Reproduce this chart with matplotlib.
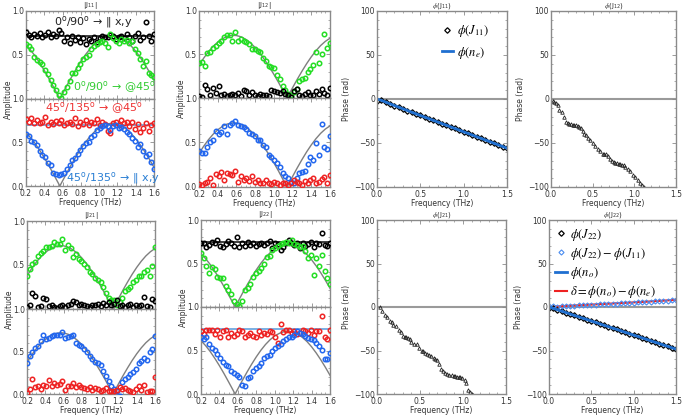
# Jones-matrix amplitudes and phases for the 0/90 and 45/135 rotations.
import numpy as np
import matplotlib
matplotlib.use("Agg")
import matplotlib.pyplot as plt
from matplotlib.ticker import MultipleLocator

plt.rcParams['font.family'] = ['DejaVu Sans']
plt.rcParams['mathtext.fontset'] = 'stix'

# Measured amplitude points, 48 frequencies from 0.2 to 1.6 THz.
freq = np.linspace(0.2, 1.6, 48)

j11_up_black = [0.76, 0.73, 0.70, 0.74, 0.72, 0.75, 0.71, 0.73, 0.76, 0.70, 0.74, 0.72, 0.78, 0.75, 0.66, 0.70,
                0.64, 0.72, 0.67, 0.70, 0.65, 0.69, 0.63, 0.68, 0.66, 0.71, 0.65, 0.69, 0.72, 0.70, 0.71, 0.73,
                0.72, 0.68, 0.70, 0.72, 0.69, 0.74, 0.70, 0.66, 0.72, 0.75, 0.67, 0.70, 0.88, 0.72, 0.66, 0.74]
j11_up_green = [0.63, 0.60, 0.57, 0.48, 0.44, 0.42, 0.40, 0.33, 0.28, 0.22, 0.16, 0.10, 0.05, 0.01, 0.08, 0.14,
                0.20, 0.29, 0.30, 0.35, 0.40, 0.45, 0.48, 0.50, 0.57, 0.60, 0.63, 0.65, 0.66, 0.64, 0.59, 0.74,
                0.69, 0.66, 0.64, 0.68, 0.66, 0.67, 0.64, 0.66, 0.57, 0.52, 0.46, 0.37, 0.43, 0.30, 0.27, 0.25]
j11_lo_red = [0.77, 0.73, 0.78, 0.72, 0.76, 0.72, 0.74, 0.79, 0.70, 0.73, 0.71, 0.75, 0.72, 0.76, 0.70, 0.72,
              0.74, 0.71, 0.78, 0.69, 0.73, 0.71, 0.76, 0.70, 0.74, 0.72, 0.77, 0.70, 0.73, 0.71, 0.63, 0.61,
              0.72, 0.74, 0.70, 0.76, 0.72, 0.74, 0.69, 0.73, 0.66, 0.71, 0.62, 0.67, 0.72, 0.63, 0.70, 0.72]
j11_lo_blue = [0.60, 0.57, 0.52, 0.50, 0.47, 0.40, 0.36, 0.33, 0.26, 0.24, 0.15, 0.14, 0.13, 0.14, 0.15, 0.20,
               0.24, 0.30, 0.32, 0.37, 0.41, 0.46, 0.49, 0.51, 0.56, 0.59, 0.64, 0.67, 0.69, 0.70, 0.69, 0.64,
               0.69, 0.70, 0.67, 0.68, 0.66, 0.62, 0.60, 0.55, 0.52, 0.45, 0.48, 0.40, 0.34, 0.37, 0.28, 0.20]

j12_up_black = [0.02, 0.01, 0.15, 0.10, 0.04, 0.12, 0.06, 0.14, 0.03, 0.05, 0.02, 0.04, 0.05, 0.03, 0.06, 0.02,
                0.09, 0.08, 0.03, 0.07, 0.03, 0.02, 0.05, 0.03, 0.04, 0.02, 0.09, 0.08, 0.07, 0.06, 0.08, 0.05,
                0.04, 0.01, 0.08, 0.10, 0.03, 0.02, 0.05, 0.07, 0.04, 0.03, 0.08, 0.05, 0.10, 0.06, 0.04, 0.11]
j12_up_green = [0.40, 0.41, 0.37, 0.52, 0.53, 0.58, 0.60, 0.63, 0.66, 0.70, 0.72, 0.72, 0.66, 0.76, 0.65, 0.68,
                0.66, 0.64, 0.62, 0.56, 0.56, 0.54, 0.53, 0.46, 0.43, 0.37, 0.36, 0.35, 0.27, 0.22, 0.14, 0.09,
                0.05, 0.04, 0.07, 0.10, 0.20, 0.22, 0.23, 0.30, 0.33, 0.38, 0.53, 0.40, 0.50, 0.74, 0.57, 0.63]
j12_lo_red = [0.03, 0.02, 0.04, 0.06, 0.10, 0.02, 0.15, 0.12, 0.17, 0.08, 0.16, 0.15, 0.13, 0.18, 0.06, 0.12,
              0.08, 0.10, 0.07, 0.12, 0.06, 0.08, 0.05, 0.04, 0.08, 0.05, 0.03, 0.06, 0.04, 0.02, 0.05, 0.04,
              0.02, 0.05, 0.08, 0.06, 0.04, 0.02, 0.07, 0.05, 0.08, 0.10, 0.04, 0.06, 0.09, 0.11, 0.05, 0.14]
j12_lo_blue = [0.40, 0.38, 0.38, 0.45, 0.50, 0.53, 0.63, 0.60, 0.62, 0.69, 0.59, 0.70, 0.72, 0.74, 0.70, 0.69,
               0.67, 0.65, 0.61, 0.59, 0.57, 0.53, 0.53, 0.47, 0.45, 0.36, 0.34, 0.30, 0.27, 0.22, 0.16, 0.12,
               0.10, 0.06, 0.05, 0.10, 0.16, 0.17, 0.18, 0.26, 0.34, 0.30, 0.49, 0.36, 0.71, 0.45, 0.43, 0.57]

j21_up_black = [0.02, 0.04, 0.18, 0.15, 0.02, 0.03, 0.13, 0.11, 0.03, 0.05, 0.02, 0.01, 0.03, 0.04, 0.02, 0.05,
                0.06, 0.09, 0.08, 0.04, 0.06, 0.05, 0.03, 0.02, 0.04, 0.05, 0.06, 0.03, 0.07, 0.05, 0.08, 0.04,
                0.06, 0.10, 0.03, 0.05, 0.02, 0.04, 0.06, 0.02, 0.05, 0.03, 0.04, 0.14, 0.03, 0.02, 0.11, 0.09]
j21_up_green = [0.38, 0.46, 0.51, 0.53, 0.60, 0.64, 0.66, 0.71, 0.70, 0.72, 0.76, 0.74, 0.74, 0.80, 0.67, 0.73,
                0.69, 0.59, 0.62, 0.57, 0.55, 0.51, 0.48, 0.42, 0.40, 0.35, 0.33, 0.31, 0.25, 0.18, 0.13, 0.10,
                0.10, 0.05, 0.08, 0.12, 0.20, 0.23, 0.25, 0.31, 0.33, 0.37, 0.37, 0.42, 0.44, 0.38, 0.49, 0.71]
j21_lo_red = [0.01, 0.06, 0.18, 0.08, 0.10, 0.06, 0.11, 0.09, 0.16, 0.10, 0.13, 0.11, 0.12, 0.15, 0.05, 0.09,
              0.10, 0.13, 0.08, 0.11, 0.08, 0.07, 0.06, 0.08, 0.05, 0.07, 0.06, 0.04, 0.05, 0.07, 0.03, 0.04,
              0.03, 0.05, 0.08, 0.06, 0.07, 0.05, 0.04, 0.02, 0.06, 0.09, 0.05, 0.11, 0.02, 0.04, 0.03, 0.20]
j21_lo_blue = [0.37, 0.45, 0.50, 0.54, 0.57, 0.62, 0.70, 0.65, 0.66, 0.68, 0.69, 0.70, 0.70, 0.73, 0.66, 0.67,
               0.68, 0.70, 0.60, 0.58, 0.57, 0.53, 0.49, 0.45, 0.41, 0.38, 0.36, 0.34, 0.27, 0.21, 0.15, 0.10,
               0.06, 0.03, -0.02, 0.14, 0.18, 0.20, 0.23, 0.26, 0.30, 0.37, 0.39, 0.42, 0.40, 0.50, 0.53, 0.68]

j22_up_black = [0.73, 0.74, 0.69, 0.71, 0.75, 0.73, 0.77, 0.70, 0.69, 0.72, 0.76, 0.73, 0.70, 0.80, 0.69, 0.73,
                0.70, 0.75, 0.71, 0.73, 0.70, 0.72, 0.74, 0.71, 0.73, 0.76, 0.68, 0.74, 0.72, 0.66, 0.69, 0.73,
                0.77, 0.74, 0.71, 0.73, 0.68, 0.74, 0.70, 0.72, 0.75, 0.69, 0.73, 0.72, 0.85, 0.71, 0.70, 0.74]
j22_up_green = [0.62, 0.56, 0.47, 0.39, 0.46, 0.44, 0.35, 0.33, 0.33, 0.24, 0.20, 0.15, 0.07, 0.04, 0.01, 0.07,
                0.20, 0.22, 0.26, 0.35, 0.39, 0.41, 0.45, 0.50, 0.58, 0.59, 0.66, 0.68, 0.70, 0.72, 0.73, 0.75,
                0.73, 0.77, 0.72, 0.71, 0.69, 0.70, 0.64, 0.56, 0.60, 0.37, 0.56, 0.47, 0.60, 0.41, 0.33, 0.26]
j22_lo_red = [0.72, 0.69, 0.74, 0.73, 0.74, 0.69, 0.73, 0.66, 0.72, 0.74, 0.66, 0.70, 0.67, 0.69, 0.73, 0.72,
              0.66, 0.68, 0.70, 0.67, 0.66, 0.72, 0.68, 0.70, 0.69, 0.72, 0.71, 0.66, 0.59, 0.80, 0.71, 0.73,
              0.74, 0.70, 0.72, 0.69, 0.70, 0.74, 0.72, 0.70, 0.74, 0.68, 0.72, 0.72, 0.90, 0.66, 0.63, 0.74]
j22_lo_blue = [0.65, 0.63, 0.65, 0.57, 0.53, 0.51, 0.46, 0.41, 0.37, 0.33, 0.32, 0.26, 0.24, 0.22, 0.20, 0.10,
               0.09, 0.18, 0.20, 0.26, 0.30, 0.32, 0.36, 0.41, 0.44, 0.45, 0.50, 0.53, 0.55, 0.58, 0.61, 0.63,
               0.65, 0.65, 0.68, 0.72, 0.70, 0.69, 0.67, 0.64, 0.63, 0.62, 0.59, 0.55, 0.51, 0.40, 0.40, 0.47]

# Model curves (grey).
model_f = [0.20, 0.25, 0.30, 0.35, 0.40, 0.45, 0.50, 0.55, 0.57, 0.60, 0.65, 0.70, 0.75, 0.80, 0.85, 0.90,
           0.95, 1.00, 1.05, 1.10, 1.14, 1.15, 1.20, 1.25, 1.30, 1.35, 1.40, 1.45, 1.50, 1.55, 1.60]
model_cos = [0.613, 0.556, 0.488, 0.410, 0.325, 0.234, 0.138, 0.040, 0.000, 0.059, 0.158, 0.253, 0.343, 0.427,
             0.503, 0.569, 0.624, 0.667, 0.697, 0.716, 0.720, 0.720, 0.710, 0.687, 0.651, 0.603, 0.543, 0.472,
             0.393, 0.307, 0.215]
model_sin = [0.377, 0.458, 0.530, 0.592, 0.642, 0.681, 0.707, 0.719, 0.720, 0.718, 0.703, 0.674, 0.633, 0.580,
             0.516, 0.441, 0.360, 0.272, 0.179, 0.079, 0.000, 0.020, 0.118, 0.215, 0.307, 0.394, 0.473, 0.543,
             0.603, 0.651, 0.687]

# Phases (rad) on a 0.05 THz grid.
phase_f = np.linspace(0, 1.5, 31)
j11_phase = [-2.0, -1.0, -3.5, -5.5, -7.5, -9.5, -11.3, -13.2, -15.0, -16.8, -18.7, -20.5, -22.4, -24.2, -26.1,
             -28.0, -29.8, -31.7, -33.5, -35.4, -37.2, -39.1, -41.0, -42.8, -44.7, -46.5, -48.4, -50.3, -52.1,
             -54.0, -55.8]
ne_phase = [0.0, -1.5, -3.5, -5.5, -7.4, -9.3, -11.2, -13.1, -15.0, -16.8, -18.7, -20.6, -22.4, -24.3, -26.1,
            -28.0, -29.8, -31.7, -33.6, -35.4, -37.3, -39.1, -41.0, -42.9, -44.7, -46.6, -48.4, -50.3, -52.2,
            -54.0, -55.9]
j22_phase = [-1.0, -1.5, -3.2, -4.8, -6.4, -8.0, -9.7, -11.3, -12.9, -14.5, -16.1, -17.7, -19.4, -21.0, -22.6,
             -24.2, -25.8, -27.4, -29.0, -30.7, -32.3, -33.9, -35.5, -37.1, -38.7, -40.4, -42.0, -43.6, -45.2,
             -46.8, -48.4]
no_phase = [0.0, -1.6, -3.2, -4.8, -6.4, -8.1, -9.7, -11.3, -12.9, -14.5, -16.1, -17.7, -19.4, -21.0, -22.6,
            -24.2, -25.8, -27.4, -29.1, -30.7, -32.3, -33.9, -35.5, -37.1, -38.8, -40.4, -42.0, -43.6, -45.2,
            -46.8, -48.4]
j22_minus_j11 = [1.0, 0.8, 0.3, 0.7, 1.1, 1.5, 1.6, 1.9, 2.1, 2.3, 2.6, 2.8, 3.0, 3.2, 3.5, 3.8, 4.0, 4.3, 4.5,
                 4.8, 5.0, 5.3, 5.6, 5.9, 6.2, 6.5, 6.8, 7.1, 7.4, 7.8, 8.1]
delta_phase = [0.0, 0.3, 0.6, 0.9, 1.2, 1.5, 1.8, 2.0, 2.3, 2.5, 2.8, 3.0, 3.3, 3.5, 3.8, 4.0, 4.3, 4.5, 4.8,
               5.0, 5.3, 5.6, 5.8, 6.1, 6.4, 6.7, 7.0, 7.3, 7.6, 7.9, 8.2]

j12_phase_f = [0.02, 0.04, 0.06, 0.08, 0.10, 0.13, 0.16, 0.18, 0.20, 0.22, 0.24, 0.26, 0.28, 0.30, 0.32, 0.34,
               0.36, 0.38, 0.40, 0.42, 0.44, 0.47, 0.50, 0.53, 0.56, 0.59, 0.62, 0.64, 0.66, 0.68, 0.71, 0.73,
               0.75, 0.77, 0.79, 0.81, 0.83, 0.85, 0.87, 0.89, 0.92, 0.95, 0.98, 1.01, 1.04, 1.07, 1.09, 1.11]
j12_phase = [-2, -3, -5, -7, -12, -15, -20, -26, -27, -28, -28, -29, -30, -30, -31, -32, -33, -36, -40, -41,
             -44, -47, -50, -53, -57, -59, -62, -63, -63, -65, -68, -71, -72, -73, -73, -74, -74, -75, -75, -77,
             -79, -82, -86, -89, -92, -96, -98, -100]
j21_phase_f = [0.03, 0.06, 0.09, 0.12, 0.15, 0.17, 0.19, 0.22, 0.25, 0.28, 0.30, 0.32, 0.34, 0.36, 0.38, 0.40,
               0.43, 0.46, 0.49, 0.52, 0.54, 0.56, 0.58, 0.60, 0.63, 0.66, 0.68, 0.70, 0.72, 0.74, 0.77, 0.79,
               0.81, 0.84, 0.87, 0.89, 0.91, 0.93, 0.95, 0.97, 0.99, 1.02, 1.04, 1.06, 1.08, 1.10, 1.12]
j21_phase = [0, -5, -9, -12, -16, -17, -21, -22, -27, -29, -33, -34, -35, -36, -37, -40, -42, -43, -47, -50,
             -51, -53, -54, -55, -56, -59, -60, -61, -66, -71, -73, -76, -77, -78, -78, -79, -79, -80, -80, -81,
             -82, -84, -87, -95, -98, -100, -101]

BLACK, GREEN, RED, BLUE = "#000000", "#22dd22", "#ee2222", "#2266ee"
LINE_BLUE = "#6fa8e0"

fig = plt.figure(figsize=(6.85, 4.15), dpi=100)
W, H = 685, 415


def box(l, t, r, b):
    return [l / W, 1 - b / H, (r - l) / W, (b - t) / H]


def style(ax, xmaj, xmin, ymaj, ymin):
    for s in ax.spines.values():
        s.set_color("#8a8a8a")
        s.set_linewidth(1.0)
    ax.tick_params(which="both", direction="in", top=True, right=True, colors="#8a8a8a",
                   labelcolor="#333333", labelsize=5.5, pad=1.5)
    ax.tick_params(axis="x", pad=2)
    ax.tick_params(which="major", length=3, width=0.6)
    ax.tick_params(which="minor", length=1.5, width=0.5)
    ax.xaxis.set_major_locator(MultipleLocator(xmaj))
    ax.xaxis.set_minor_locator(MultipleLocator(xmin))
    ax.yaxis.set_major_locator(MultipleLocator(ymaj))
    ax.yaxis.set_minor_locator(MultipleLocator(ymin))


def dots(ax, vals, color):
    ax.plot(freq, vals, "o", ms=3.2, mfc="none", mec=color, mew=1.1, zorder=3)


def amp_panel(l, r, t, m, b, title, upper, lower, upper_curve, lower_curve, upper_line, lower_line):
    ax1 = fig.add_axes(box(l, t, r, m))
    ax2 = fig.add_axes(box(l, m, r, b))
    for ax, series, curve in ((ax1, upper, upper_curve), (ax2, lower, lower_curve)):
        ax.plot(model_f, curve, color="#7f7f7f", lw=1.0, zorder=2)
        for vals, c in series:
            dots(ax, vals, c)
        ax.set_xlim(0.2, 1.6)
        ax.set_ylim(0, 1.0)
        style(ax, 0.2, 0.05, 0.5, 0.1)
    if upper_line is not None:
        ax1.axhline(upper_line, color="#333333", lw=1.3, zorder=2.5)
    if lower_line is not None:
        ax2.axhline(lower_line, color=LINE_BLUE, lw=1.3, zorder=2.5)
    ax1.set_yticks([0.5, 1.0])
    ax1.set_yticklabels(["0.5", "1.0"])
    ax1.tick_params(labelbottom=False)
    ax2.set_yticks([0.0, 0.5, 1.0])
    ax2.set_xticks([0.2, 0.4, 0.6, 0.8, 1.0, 1.2, 1.4, 1.6])
    ax2.set_xlabel("Frequency (THz)", fontsize=5.5, labelpad=0, color="#333333")
    ax1.set_title(title, fontsize=5, pad=0, color="#333333")
    fig.text((l - 18) / W, 1 - m / H, "Amplitude", rotation=90, fontsize=5.5,
             ha="center", va="center", color="#333333")
    return ax1, ax2


def phase_panel(l, r, t, b, title):
    ax = fig.add_axes(box(l, t, r, b))
    ax.axhline(0, color="#9a9a9a", lw=1.5, zorder=1)
    ax.set_xlim(0, 1.5)
    ax.set_ylim(-100, 100)
    style(ax, 0.5, 0.1, 50, 10)
    ax.set_title(title, fontsize=5, pad=0, color="#333333")
    ax.set_xlabel("Frequency (THz)", fontsize=5.5, labelpad=0, color="#333333")
    ax.set_ylabel("Phase (rad)", fontsize=5.5, labelpad=2, color="#333333")
    return ax


# |J11|
a1, a2 = amp_panel(26, 154, 11, 99, 186, r"|J$_{\mathregular{11}}$|",
                   [(j11_up_black, BLACK), (j11_up_green, GREEN)], [(j11_lo_red, RED), (j11_lo_blue, BLUE)],
                   model_cos, model_cos, 0.72, 0.70)
deg = r"$^{\mathregular{o}}$"
a1.text(0.935, 0.87, f"0{deg}/90{deg} → ‖ x,y", color="#222222", fontsize=8, ha="center", va="center", zorder=5)
a1.text(1.165, 0.13, f"0{deg}/90{deg} → @45{deg}", color="#33cc33", fontsize=8, ha="center", va="center", zorder=5)
a2.text(0.94, 0.90, f"45{deg}/135{deg} → @45{deg}", color="#ee3333", fontsize=8, ha="center", va="center", zorder=5)
a2.text(1.15, 0.09, f"45{deg}/135{deg} → ‖ x,y", color="#2a7fd4", fontsize=8, ha="center", va="center", zorder=5)

# |J12|
amp_panel(199, 330, 11, 98, 187, r"|J$_{\mathregular{12}}$|",
          [(j12_up_green, GREEN), (j12_up_black, BLACK)], [(j12_lo_blue, BLUE), (j12_lo_red, RED)],
          model_sin, model_sin, None, None)

# |J21|
amp_panel(27, 155, 221, 309, 394, r"|J$_{\mathregular{21}}$|",
          [(j21_up_green, GREEN), (j21_up_black, BLACK)], [(j21_lo_blue, BLUE), (j21_lo_red, RED)],
          model_sin, model_sin, None, None)

# |J22|
amp_panel(201, 330, 220, 307, 394, r"|J$_{\mathregular{22}}$|",
          [(j22_up_black, BLACK), (j22_up_green, GREEN)], [(j22_lo_red, RED), (j22_lo_blue, BLUE)],
          model_cos, model_cos, 0.75, 0.75)

# phase(J11)
p = phase_panel(377, 507, 11, 187, r"$\phi$(J$_{\mathregular{11}}$)")
p.plot(phase_f, j11_phase, "D", ms=2.8, mfc="none", mec=BLACK, mew=0.9, label=r"$\phi(J_{11})$")
p.plot(phase_f, ne_phase, "-", color="#1f6fd0", lw=2, label=r"$\phi(n_e)$")
p.legend(loc="upper left", bbox_to_anchor=(0.46, 0.96), frameon=False, fontsize=9, handlelength=0.9,
         handletextpad=0.3, labelspacing=0.45, borderaxespad=0)

# phase(J12)
p = phase_panel(551, 676, 11, 187, r"$\phi$(J$_{\mathregular{12}}$)")
p.plot(j12_phase_f, j12_phase, "^", ms=2.5, mfc="none", mec="#222222", mew=0.6)

# phase(J21)
p = phase_panel(377, 506, 220, 394, r"$\phi$(J$_{\mathregular{21}}$)")
p.plot(j21_phase_f, j21_phase, "^", ms=2.5, mfc="none", mec="#222222", mew=0.6)

# phase(J22)
p = phase_panel(549, 676, 220, 394, r"$\phi$(J$_{\mathregular{22}}$)")
p.plot(phase_f, j22_phase, "D", ms=2.8, mfc="none", mec=BLACK, mew=0.9, label=r"$\phi(J_{22})$")
p.plot(phase_f, j22_minus_j11, "D", ms=2.6, mfc="none", mec="#4a8cf0", mew=0.8,
       label=r"$\phi(J_{22})-\phi(J_{11})$")
p.plot(phase_f, no_phase, "-", color="#1f6fd0", lw=2, label=r"$\phi(n_o)$")
p.plot(phase_f, delta_phase, "-", color=RED, lw=1.5, zorder=1.5, label=r"$\delta=\phi(n_o)-\phi(n_e)$")
p.legend(loc="upper left", bbox_to_anchor=(0.01, 0.99), frameon=False, fontsize=9, handlelength=0.9,
         handletextpad=0.3, labelspacing=0.25, borderaxespad=0)

plt.savefig("out.png", dpi=100)
plt.close()
